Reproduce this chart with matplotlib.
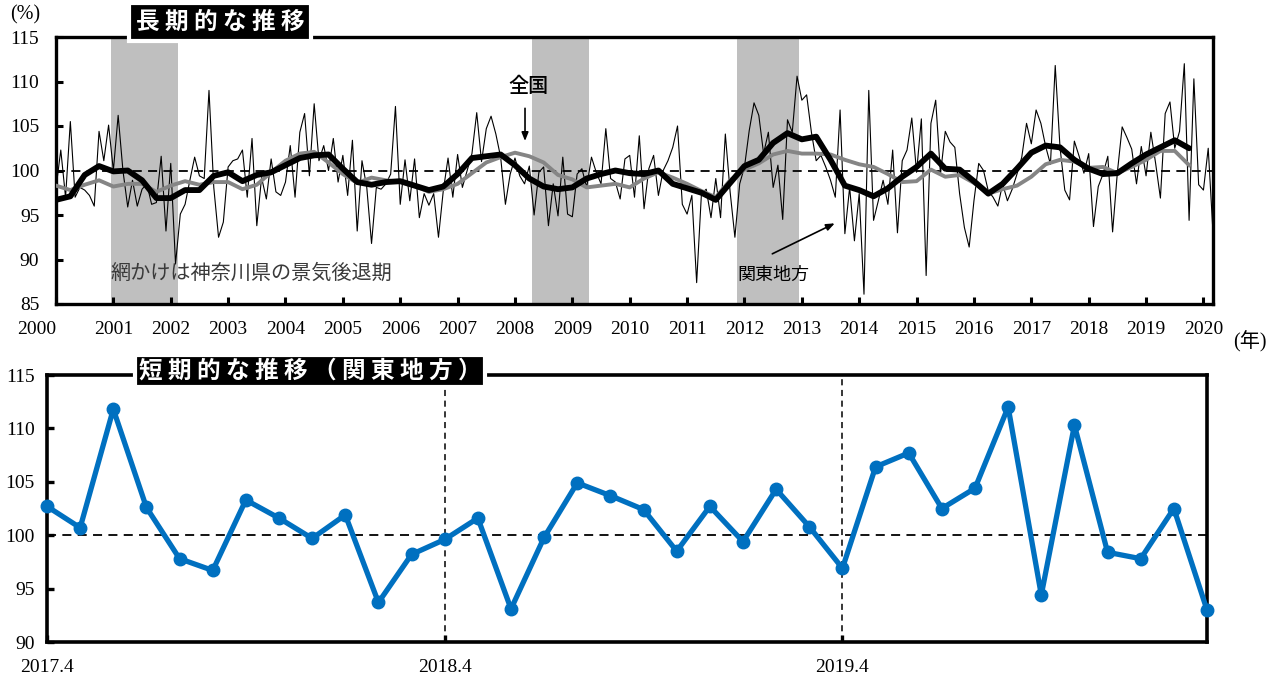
import numpy as np
import matplotlib.pyplot as plt

JP = ['Noto Sans CJK JP', 'DejaVu Sans']
SERIF = ['Liberation Serif', 'Noto Sans CJK JP']

# Kanto index, monthly, Apr 2017 - Mar 2020 (short-term panel)
recent_labels = ['2017.4', '2018.4', '2019.4']
kanto_recent = [102.7, 100.7, 111.8, 102.6, 97.8, 96.7, 103.3, 101.6, 99.7, 101.9, 93.7, 98.2,
                99.6, 101.6, 93.1, 99.8, 104.9, 103.7, 102.4, 98.5, 102.7, 99.4, 104.3, 100.8,
                96.9, 106.4, 107.7, 102.5, 104.4, 112.0, 94.4, 110.3, 98.4, 97.8, 102.5, 93.0]

# Kanto index, monthly, Jan 2000 - Mar 2017
kanto_early = [
    98.0, 102.3, 97.0, 105.5, 97.0, 98.1, 97.8, 97.2, 96.0, 104.4, 101.1, 105.1,
    100.0, 106.2, 100.0, 95.9, 98.9, 96.0, 97.9, 98.5, 96.2, 96.4, 101.6, 93.2,
    100.8, 89.5, 95.1, 96.2, 98.9, 101.5, 99.4, 99.1, 109.0, 98.1, 92.5, 94.2,
    100.4, 101.1, 101.3, 102.3, 97.0, 103.6, 93.8, 99.2, 96.8, 101.3, 97.6, 97.2,
    98.7, 102.8, 97.0, 104.3, 106.4, 99.4, 107.5, 101.1, 102.8, 100.0, 103.6, 98.7,
    101.7, 97.2, 103.4, 93.2, 101.1, 98.1, 91.8, 98.1, 97.9, 98.5, 99.6, 107.2,
    96.2, 101.2, 96.6, 101.3, 94.7, 97.4, 96.1, 97.4, 92.5, 97.7, 101.4, 97.0,
    101.8, 98.1, 100.0, 101.9, 106.5, 101.0, 104.7, 106.1, 104.1, 101.5, 96.2, 99.6,
    101.4, 99.4, 98.5, 100.5, 95.0, 99.8, 100.4, 93.8, 98.5, 94.9, 101.5, 95.1,
    94.8, 99.6, 100.2, 98.1, 101.5, 99.8, 98.5, 104.7, 99.1, 98.7, 96.8, 101.3,
    101.7, 97.0, 103.9, 95.7, 100.2, 101.7, 97.2, 100.0, 101.1, 102.6, 105.0, 96.2,
    95.1, 97.2, 87.4, 97.4, 97.9, 94.7, 99.1, 94.7, 104.1, 97.6, 92.5, 98.5,
    100.4, 104.5, 107.6, 106.2, 101.9, 104.3, 98.1, 100.6, 94.5, 105.7, 104.3, 110.6,
    107.9, 108.5, 104.3, 101.1, 101.7, 100.4, 98.9, 97.0, 106.8, 92.9, 98.1, 92.1,
    97.4, 86.1, 109.0, 94.4, 96.6, 98.9, 96.2, 102.3, 93.0, 101.1, 102.3, 105.9,
    99.8, 105.8, 88.2, 105.3, 107.9, 99.6, 104.4, 103.2, 102.6, 97.4, 93.6, 91.4,
    96.6, 100.8, 100.0, 97.7, 97.0, 96.0, 98.5, 96.6, 97.9, 99.6, 101.5, 105.3,
    103.0, 106.8, 105.3]

kanto_monthly = kanto_early + kanto_recent

# 12-month moving averages, every third month from Jan 2000
kanto_ma = [
    96.7, 97.1, 99.5, 100.5, 99.9, 100.0, 98.9, 96.9, 96.9, 97.8, 97.8, 99.4,
    99.8, 98.8, 99.5, 99.8, 100.6, 101.4, 101.7, 101.8, 100.2,
    98.7, 98.4, 98.7, 98.8, 98.3, 97.8, 98.2, 99.6, 101.4, 101.6, 101.8, 100.6,
    99.1, 98.2, 97.9, 98.1, 99.1, 99.6, 100.0, 99.7,
    99.6, 100.0, 98.5, 98.0, 97.5, 96.7, 98.6, 100.5, 101.2, 103.1, 104.2, 103.5,
    103.8, 101.2, 98.3, 97.8, 97.1, 98.0, 99.3, 100.4,
    101.9, 100.2, 100.1, 98.8, 97.4, 98.5, 100.2, 102.0, 102.8, 102.6, 101.2, 100.2,
    99.6, 99.7, 100.8, 101.8, 102.6, 103.4, 102.5]
national_ma = [
    98.3, 97.8, 98.4, 98.9, 98.2, 98.5, 98.5, 97.6, 98.3, 98.8, 98.4, 98.7,
    98.7, 97.9, 98.4, 99.8, 101.1, 101.9, 102.1, 100.9, 99.6,
    98.6, 99.2, 98.9, 98.7, 98.3, 97.6, 97.9, 98.5, 99.7, 100.9, 101.5, 102.0,
    101.6, 100.9, 99.5, 99.0, 98.1, 98.3, 98.5, 98.1,
    99.1, 99.8, 99.2, 98.5, 97.7, 97.0, 98.9, 100.1, 100.8, 101.8, 102.2, 101.9,
    101.9, 101.8, 101.2, 100.7, 100.4, 99.6, 98.7, 98.8,
    100.1, 99.3, 99.5, 98.6, 97.4, 97.9, 98.3, 99.3, 100.7, 101.2, 101.0, 100.3,
    100.4, 99.7, 100.4, 101.2, 102.2, 102.2, 100.6]

years = list(range(2000, 2021))
# Kanagawa recession periods (first and last month)
recessions = [('2001-01', '2002-02'), ('2008-05', '2009-04'), ('2011-12', '2012-12')]


def month_index(ym):
    y, m = map(int, ym.split('-'))
    return (y - 2000) * 12 + (m - 1)


fig = plt.figure(figsize=(12.75, 6.8), dpi=100)
W, H = 1275, 680
ax1 = fig.add_axes([56 / W, 1 - 304 / H, 1157 / W, 267 / H])
ax2 = fig.add_axes([47 / W, 1 - 642 / H, 1160 / W, 267 / H])

dash = (0, (5, 3.5))

# ---- long-term panel ----
months = np.arange(len(kanto_monthly))
q_months = np.arange(0, 3 * len(kanto_ma), 3)

for start, end in recessions:
    ax1.axvspan(month_index(start) - 0.5, month_index(end) + 0.5,
                color='#bfbfbf', lw=0, zorder=0)
ax1.axhline(100, color='black', lw=1.3, ls=dash, zorder=1)
ax1.plot(months, kanto_monthly, color='black', lw=0.8, zorder=2)
ax1.plot(q_months, national_ma, color='#858585', lw=2.8, zorder=3)
ax1.plot(q_months, kanto_ma, color='black', lw=4.2, zorder=4,
         solid_joinstyle='round', solid_capstyle='round')

ax1.set_xlim(0, len(kanto_monthly) - 1)
ax1.set_ylim(85, 115)
ax1.set_xticks(np.arange(0, 12 * len(years), 12))
ax1.set_xticklabels(years)
ax1.set_yticks(range(85, 116, 5))
ax1.tick_params(axis='both', direction='in', length=5, width=2.2,
                labelsize=14)
ax1.tick_params(axis='x', pad=12)
ax1.tick_params(axis='y', pad=12)
for lbl in ax1.get_xticklabels() + ax1.get_yticklabels():
    lbl.set_family(SERIF)
ax1.get_xticklabels()[0].set_ha('right')
for sp in ax1.spines.values():
    sp.set_linewidth(2.4)

ax1.text(98.9, 109.4, '全国', family=JP, fontsize=14.5, fontweight='medium',
         ha='center', va='center')
ax1.annotate('', xy=(98.1, 103.0), xytext=(98.1, 107.3),
             arrowprops=dict(arrowstyle='-|>,head_width=0.2,head_length=0.5',
                             color='black', lw=1.2))
ax1.text(150.0, 88.3, '関東地方', family=JP, fontsize=13,
         ha='center', va='center')
ax1.annotate('', xy=(163.4, 94.2), xytext=(149.3, 90.5),
             arrowprops=dict(arrowstyle='-|>,head_width=0.2,head_length=0.5',
                             color='black', lw=1.2))
ax1.text(40.8, 88.4, '網かけは神奈川県の景気後退期', family=JP, fontsize=14.5,
         color='#3a3a3a', ha='center', va='center')

fig.text(220 / W, 1 - 22 / H, '長 期 的 な 推 移', family=JP, fontsize=17,
         fontweight='bold', color='white', ha='center', va='center',
         bbox=dict(boxstyle='square,pad=0.28', fc='black', ec='white', lw=3))
fig.text(25 / W, 1 - 15 / H, '(%)', family=SERIF, fontsize=14.5,
         ha='center', va='center')
fig.text(1250 / W, 1 - 342 / H, '(年)', family=SERIF, fontsize=14.5,
         ha='center', va='center')

# ---- short-term panel ----
idx = np.arange(len(kanto_recent))
ax2.axhline(100, color='black', lw=1.3, ls=dash, zorder=1)
for pos in (12, 24):
    ax2.axvline(pos, color='black', lw=1.1, ls=(0, (4, 3)), zorder=1)
ax2.plot(idx, kanto_recent, color='#0070c0', lw=3.8, marker='o', ms=9,
         zorder=5, clip_on=False)

ax2.set_xlim(0, len(kanto_recent) - 1)
ax2.set_ylim(90, 115)
ax2.set_xticks([0, 12, 24])
ax2.set_xticklabels(recent_labels)
ax2.set_yticks(range(90, 116, 5))
ax2.tick_params(axis='both', direction='in', length=5, width=2.4,
                labelsize=14)
ax2.tick_params(axis='x', pad=12)
ax2.tick_params(axis='y', pad=9)
for lbl in ax2.get_xticklabels() + ax2.get_yticklabels():
    lbl.set_family(SERIF)
for sp in ax2.spines.values():
    sp.set_linewidth(2.6)

fig.text(310 / W, 1 - 371 / H, '短 期 的 な 推 移 （ 関 東 地 方 ）', family=JP,
         fontsize=17, fontweight='bold', color='white', ha='center',
         va='center',
         bbox=dict(boxstyle='square,pad=0.15', fc='black', ec='white', lw=3))

fig.savefig('out.png', dpi=100)
